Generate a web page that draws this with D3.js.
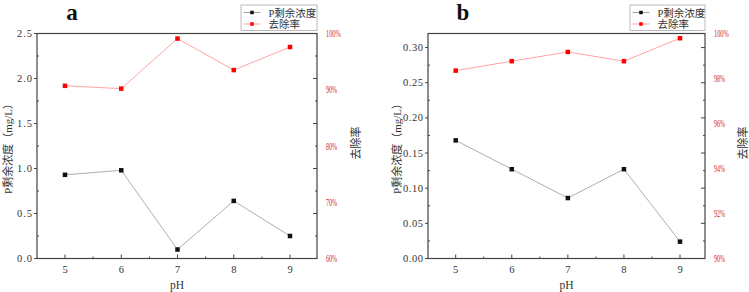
<!DOCTYPE html>
<html><head><meta charset="utf-8">
<script src="https://cdn.jsdelivr.net/npm/d3@7"></script>
<style>body{margin:0;background:#fff}svg{display:block}</style>
</head><body>
<svg id="c" width="749" height="292"></svg>
<script>
const categories = [5, 6, 7, 8, 9];
const concA = [0.93, 0.98, 0.10, 0.64, 0.25];
const rateA = [90.7, 90.2, 99.1, 93.5, 97.6];
const concB = [0.168, 0.127, 0.086, 0.127, 0.024];
const rateB = [98.35, 98.77, 99.18, 98.77, 99.79];
const leftTicksA = [0, 0.5, 1.0, 1.5, 2.0, 2.5];
const leftTicksB = [0, 0.05, 0.10, 0.15, 0.20, 0.25, 0.30];
const rightTicksA = [60, 70, 80, 90, 100];
const rightTicksB = [90, 92, 94, 96, 98, 100];
const seriesNames = ["P剩余浓度", "去除率"];
const xTitle = "pH", yTitle = "P剩余浓度（mg/L）", y2Title = "去除率";

const svg = d3.select("#c");
const serif = "Liberation Serif, Times New Roman, DejaVu Serif, Noto Sans CJK SC, serif";
const plotTop = 33.5, plotBottom = 258.5;

const panels = [
  {label:"a", conc:concA, rate:rateA, lt:leftTicksA, ldom:[0,2.5], lfmt:d3.format(".1f"), minorStep:0.25,
   rt:rightTicksA, rdom:[60,100], x0:37, x1:317, x5:65, x9:290, titleX:8, y2X:356, letterX:72, legX:241},
  {label:"b", conc:concB, rate:rateB, lt:leftTicksB, ldom:[0,0.32], lfmt:d3.format(".2f"), minorStep:0.025,
   rt:rightTicksB, rdom:[90,100], x0:428, x1:705, x5:455.7, x9:680, titleX:397, y2X:743, letterX:463, legX:630}
];

panels.forEach(p => {
  const g = svg.append("g");
  const x = d3.scaleLinear().domain([5,9]).range([p.x5, p.x9]);
  const y = d3.scaleLinear().domain(p.ldom).range([plotBottom, plotTop]);
  const yR = d3.scaleLinear().domain(p.rdom).range([plotBottom, plotTop]);
  const axisCol = "#444";

  g.append("rect").attr("x", p.x0).attr("y", plotTop).attr("width", p.x1-p.x0).attr("height", plotBottom-plotTop)
    .attr("fill","none").attr("stroke", axisCol).attr("stroke-width", 1.2);

  const minors = d3.range(p.minorStep, p.ldom[1]-1e-9, p.minorStep*2);
  g.selectAll(".lmaj").data(p.lt).join("line")
    .attr("x1", p.x0-3).attr("x2", p.x0).attr("y1", d=>y(d)).attr("y2", d=>y(d)).attr("stroke", axisCol);
  g.selectAll(".lmin").data(minors).join("line")
    .attr("x1", p.x0).attr("x2", p.x0+2).attr("y1", d=>y(d)).attr("y2", d=>y(d)).attr("stroke", axisCol);
  g.selectAll(".rmaj").data(p.lt.filter(d=>d>0 && d<p.ldom[1]-1e-9)).join("line")
    .attr("x1", p.x1-4).attr("x2", p.x1).attr("y1", d=>y(d)).attr("y2", d=>y(d)).attr("stroke", axisCol);
  g.selectAll(".rmin").data(minors).join("line")
    .attr("x1", p.x1-2).attr("x2", p.x1).attr("y1", d=>y(d)).attr("y2", d=>y(d)).attr("stroke", axisCol);
  g.selectAll(".bmaj").data(categories).join("line")
    .attr("x1", d=>x(d)).attr("x2", d=>x(d)).attr("y1", plotBottom-4).attr("y2", plotBottom).attr("stroke", axisCol);
  g.selectAll(".bmin").data([5.5,6.5,7.5,8.5]).join("line")
    .attr("x1", d=>x(d)).attr("x2", d=>x(d)).attr("y1", plotBottom-2).attr("y2", plotBottom).attr("stroke", axisCol);

  g.selectAll(".ll").data(p.lt).join("text")
    .attr("x", p.x0-5).attr("y", d=>y(d)+3.5).attr("text-anchor","end")
    .style("font-family", serif).attr("font-size", 10.5).attr("fill","#333")
    .attr("textLength", d=>p.lfmt(d).length*5).attr("lengthAdjust","spacing")
    .text(d=>p.lfmt(d));
  g.selectAll(".bl").data(categories).join("text")
    .attr("x", d=>x(d)).attr("y", 272.5).attr("text-anchor","middle")
    .style("font-family", serif).attr("font-size", 10.5).attr("fill","#333").text(d=>d);
  g.selectAll(".rl").data(p.rt).join("text")
    .attr("x", p.x1+9).attr("y", d=>yR(d)+3.5).attr("text-anchor","start")
    .style("font-family", serif).attr("font-size", 10).attr("fill","#d02a2a")
    .attr("textLength", d=>(d+"%").length*3.7).attr("lengthAdjust","spacingAndGlyphs")
    .text(d=>d+"%");

  g.append("text").attr("x", (p.x0+p.x1)/2).attr("y", 289).attr("text-anchor","middle")
    .style("font-family", serif).attr("font-size", 11.5).attr("fill","#333").text(xTitle);
  g.append("text").attr("transform", `translate(${p.titleX},${(plotTop+plotBottom)/2}) rotate(-90)`)
    .attr("dy","0.35em").attr("text-anchor","middle")
    .style("font-family", serif).attr("font-size", 11).attr("fill","#333").text(yTitle);
  g.append("text").attr("transform", `translate(${p.y2X},${(plotTop+plotBottom)/2-3}) rotate(-90)`)
    .attr("dy","0.35em").attr("text-anchor","middle")
    .style("font-family", serif).attr("font-size", 11).attr("fill","#333").text(y2Title);
  g.append("text").attr("x", p.letterX).attr("y", 20).attr("text-anchor","middle")
    .style("font-family", serif).attr("font-size", 23).attr("font-weight","bold").attr("fill","#111").text(p.label);

  const pts = (vals, sc) => categories.map((c,i)=>[x(c), sc(vals[i])]);
  g.append("path").attr("d", d3.line()(pts(p.conc, y))).attr("fill","none").attr("stroke","#999").attr("stroke-width",0.8);
  g.append("path").attr("d", d3.line()(pts(p.rate, yR))).attr("fill","none").attr("stroke","#ff9a9a").attr("stroke-width",0.9);
  const ms = 4.5;
  g.selectAll(".mc").data(pts(p.conc, y)).join("rect")
    .attr("x", d=>d[0]-ms/2).attr("y", d=>d[1]-ms/2).attr("width", ms).attr("height", ms).attr("fill","#111");
  g.selectAll(".mr").data(pts(p.rate, yR)).join("rect")
    .attr("x", d=>d[0]-ms/2).attr("y", d=>d[1]-ms/2).attr("width", ms).attr("height", ms).attr("fill","#f00");

  const lg = g.append("g");
  lg.append("rect").attr("x", p.legX).attr("y", 5).attr("width", p.x1-p.legX).attr("height", 25.5)
    .attr("fill","#fff").attr("stroke","#aaa").attr("stroke-width",0.8);
  const rows = [{n:seriesNames[0], lc:"#999", mc:"#111", cy:12.5},{n:seriesNames[1], lc:"#ff9a9a", mc:"#f00", cy:24}];
  rows.forEach(r=>{
    lg.append("line").attr("x1", p.legX+2.5).attr("x2", p.legX+19.5).attr("y1", r.cy).attr("y2", r.cy).attr("stroke", r.lc).attr("stroke-width",0.9);
    lg.append("rect").attr("x", p.legX+11-1.75).attr("y", r.cy-1.75).attr("width",3.5).attr("height",3.5).attr("fill", r.mc);
    lg.append("text").attr("x", p.legX+27.5).attr("y", r.cy+4).style("font-family", serif).attr("font-size", 10.5)
      .attr("fill","#333").text(r.n);
  });
});
</script>
</body></html>
